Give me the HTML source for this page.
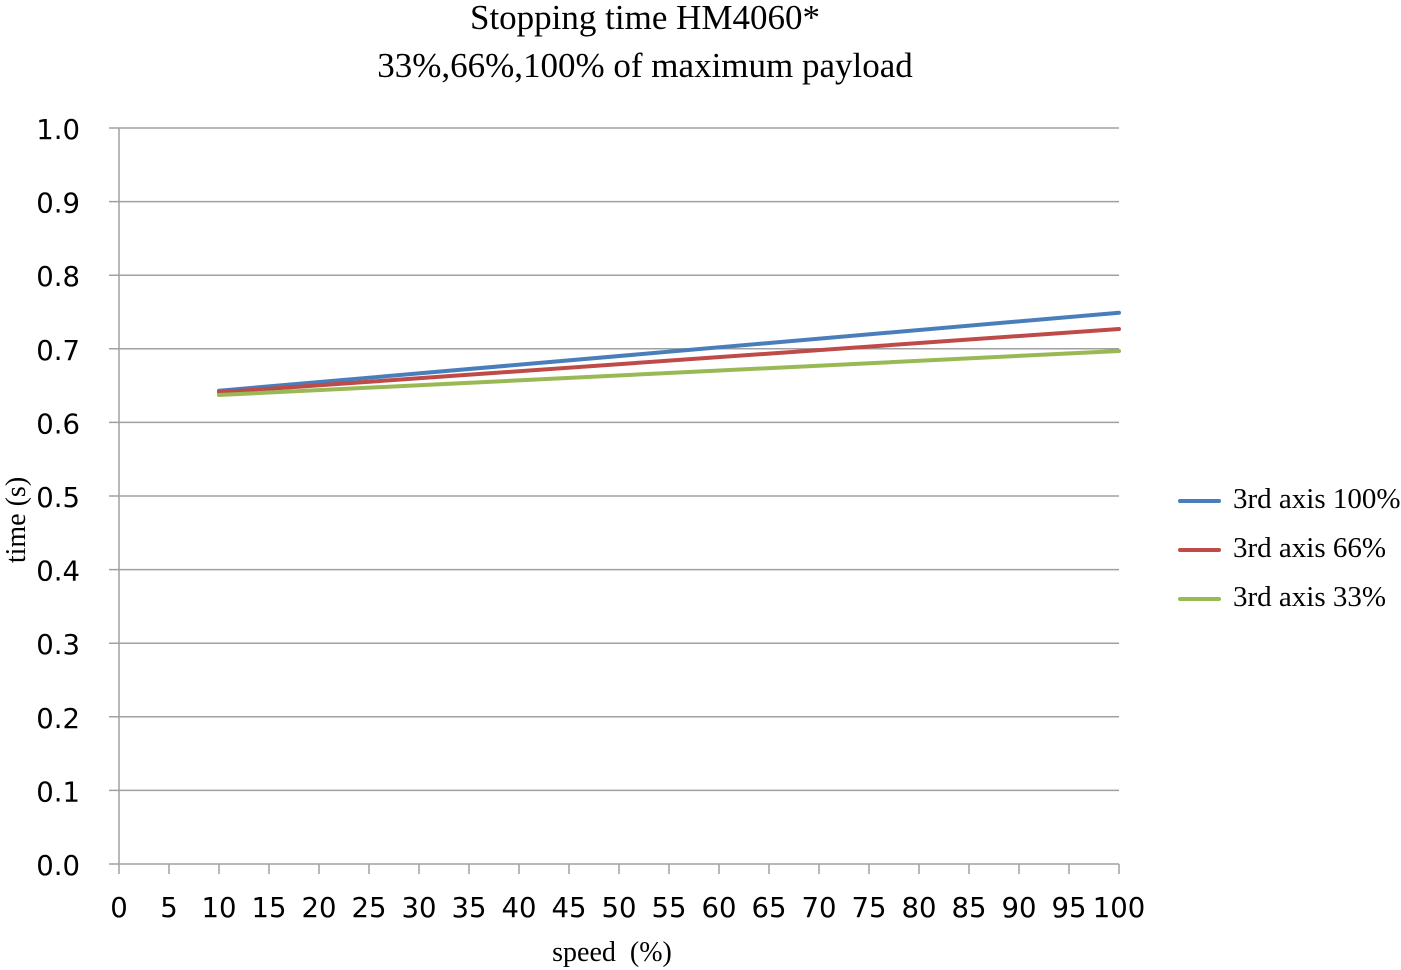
<!DOCTYPE html>
<html>
<head>
<meta charset="utf-8">
<style>
html,body{margin:0;padding:0;background:#fff;}
svg{display:block;}
.t{font-family:"DejaVu Sans","Liberation Sans",sans-serif;font-size:27.5px;fill:#000;}
.s{font-family:"Liberation Serif",serif;fill:#000;}
</style>
</head>
<body>
<svg width="1401" height="970" viewBox="0 0 1401 970" xmlns="http://www.w3.org/2000/svg">
<rect width="1401" height="970" fill="#fff"/>
<text class="s" x="645" y="29" font-size="35" text-anchor="middle">Stopping time HM4060*</text>
<text class="s" x="645" y="77" font-size="35" text-anchor="middle">33%,66%,100% of maximum payload</text>

<g stroke="#a0a0a0" stroke-width="1.5" fill="none">
<line x1="109" y1="128" x2="1119" y2="128"/>
<line x1="109" y1="201.6" x2="1119" y2="201.6"/>
<line x1="109" y1="275.2" x2="1119" y2="275.2"/>
<line x1="109" y1="348.8" x2="1119" y2="348.8"/>
<line x1="109" y1="422.4" x2="1119" y2="422.4"/>
<line x1="109" y1="496" x2="1119" y2="496"/>
<line x1="109" y1="569.6" x2="1119" y2="569.6"/>
<line x1="109" y1="643.2" x2="1119" y2="643.2"/>
<line x1="109" y1="716.8" x2="1119" y2="716.8"/>
<line x1="109" y1="790.4" x2="1119" y2="790.4"/>
<line x1="109" y1="864" x2="1119" y2="864"/>
<line x1="119" y1="128" x2="119" y2="874"/>
<path d="M169 864v10M219 864v10M269 864v10M319 864v10M369 864v10M419 864v10M469 864v10M519 864v10M569 864v10M619 864v10M669 864v10M719 864v10M769 864v10M819 864v10M869 864v10M919 864v10M969 864v10M1019 864v10M1069 864v10M1119 864v10"/>
</g>

<g class="t" text-anchor="end">
<text x="80" y="139">1.0</text>
<text x="80" y="212.6">0.9</text>
<text x="80" y="286.2">0.8</text>
<text x="80" y="359.8">0.7</text>
<text x="80" y="433.4">0.6</text>
<text x="80" y="507">0.5</text>
<text x="80" y="580.6">0.4</text>
<text x="80" y="654.2">0.3</text>
<text x="80" y="727.8">0.2</text>
<text x="80" y="801.4">0.1</text>
<text x="80" y="875">0.0</text>
</g>

<g class="t" text-anchor="middle">
<text x="119" y="917">0</text>
<text x="169" y="917">5</text>
<text x="219" y="917">10</text>
<text x="269" y="917">15</text>
<text x="319" y="917">20</text>
<text x="369" y="917">25</text>
<text x="419" y="917">30</text>
<text x="469" y="917">35</text>
<text x="519" y="917">40</text>
<text x="569" y="917">45</text>
<text x="619" y="917">50</text>
<text x="669" y="917">55</text>
<text x="719" y="917">60</text>
<text x="769" y="917">65</text>
<text x="819" y="917">70</text>
<text x="869" y="917">75</text>
<text x="919" y="917">80</text>
<text x="969" y="917">85</text>
<text x="1019" y="917">90</text>
<text x="1069" y="917">95</text>
<text x="1119" y="917">100</text>
</g>

<text class="s" x="612" y="961" font-size="28" text-anchor="middle" xml:space="preserve">speed  (%)</text>
<text class="s" x="0" y="0" font-size="28" text-anchor="middle" transform="translate(25,520) rotate(-90)">time (s)</text>

<g stroke-width="4" stroke-linecap="round" fill="none">
<line x1="219" y1="390.7" x2="1119" y2="312.7" stroke="#4a7ebb"/>
<line x1="219" y1="392.3" x2="1119" y2="329" stroke="#be4b48"/>
<line x1="219" y1="395" x2="1119" y2="351" stroke="#98b954"/>
</g>

<g stroke-width="4" stroke-linecap="round">
<line x1="1180" y1="501" x2="1219" y2="501" stroke="#4a7ebb"/>
<line x1="1180" y1="550" x2="1219" y2="550" stroke="#be4b48"/>
<line x1="1180" y1="599" x2="1219" y2="599" stroke="#98b954"/>
</g>
<g class="s" font-size="29">
<text x="1233" y="508">3rd axis 100%</text>
<text x="1233" y="557">3rd axis 66%</text>
<text x="1233" y="606">3rd axis 33%</text>
</g>
</svg>
</body>
</html>
